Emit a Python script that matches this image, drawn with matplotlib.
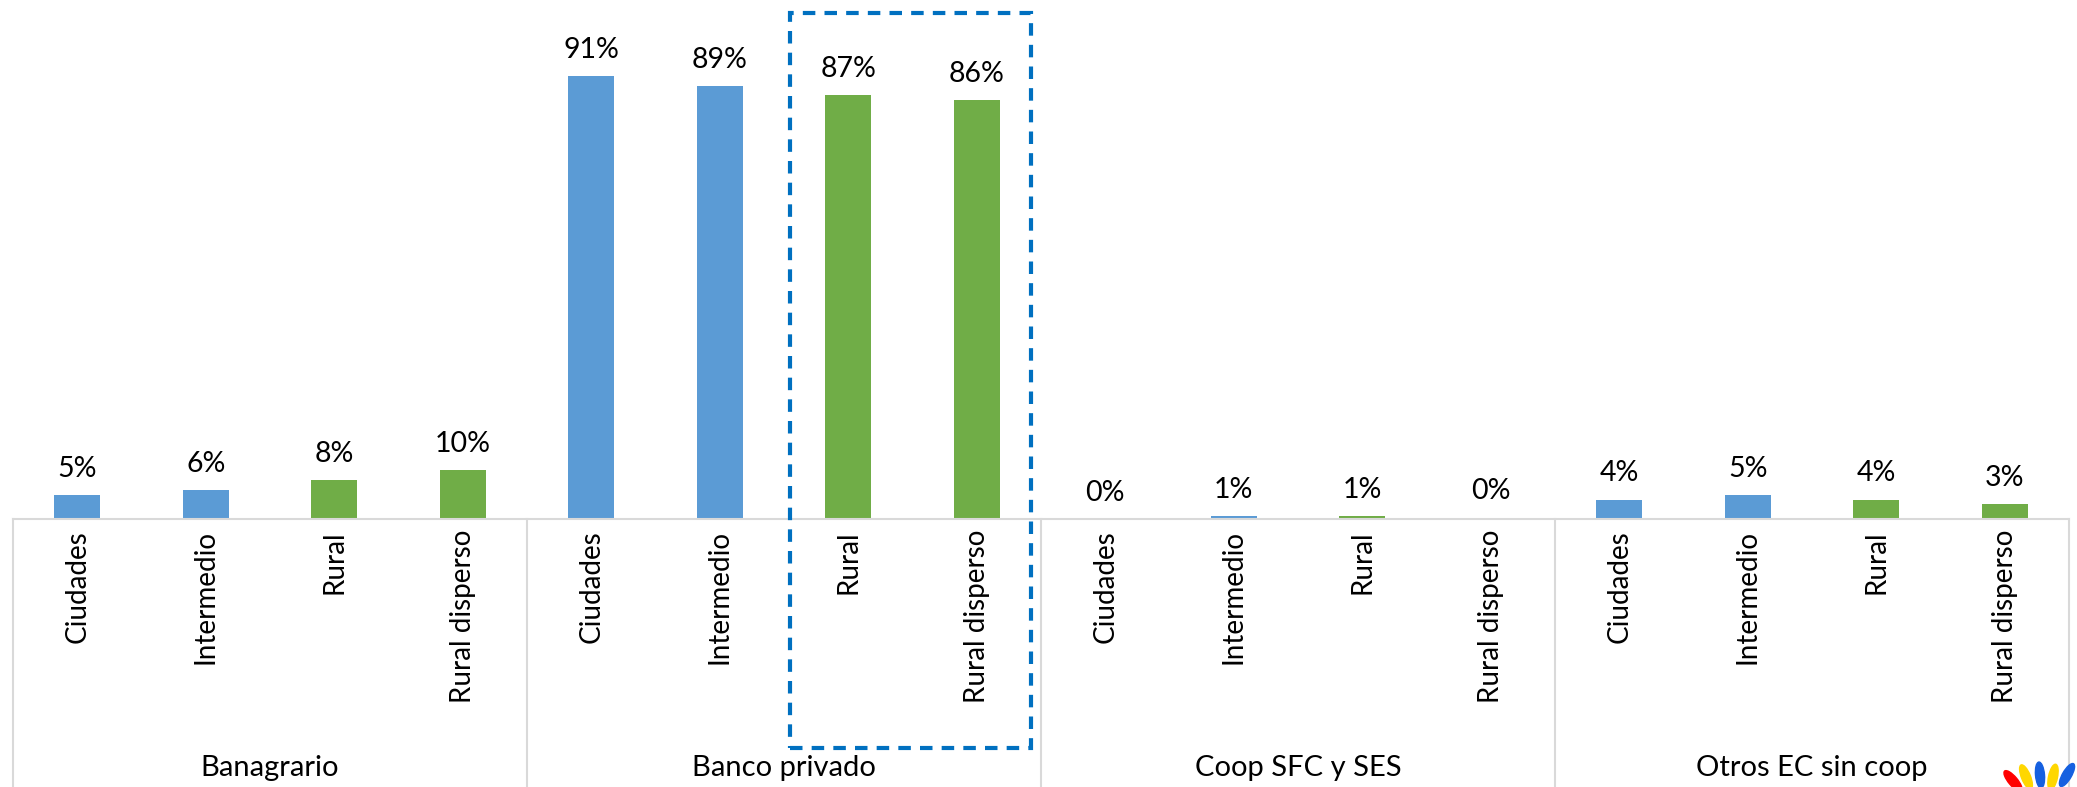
import numpy as np
import matplotlib.pyplot as plt
from matplotlib.patches import Rectangle, Ellipse
import matplotlib.transforms as mtransforms

plt.rcParams['font.family'] = ['Lato', 'DejaVu Sans']

# Data
groups = ["Banagrario", "Banco privado", "Coop SFC y SES", "Otros EC sin coop"]
subcats = ["Ciudades", "Intermedio", "Rural", "Rural disperso"]
banagrario = [0.05, 0.06, 0.08, 0.10]
banco_privado = [0.91, 0.89, 0.87, 0.86]
coop = [0.0, 0.006, 0.006, 0.003]
otros = [0.04, 0.05, 0.04, 0.03]

values = banagrario + banco_privado + coop + otros
blue = "#5B9BD5"
green = "#70AD47"
colors = [blue, blue, green, green] * 4

W, H = 2077, 787
fig = plt.figure(figsize=(W / 100, H / 100), dpi=100)
ax = fig.add_axes([13 / W, 268 / H, 2056 / W, 487 / H])

x = np.arange(len(values))
bars = ax.bar(x, values, width=0.36, color=colors)

ax.set_xlim(-0.5, len(values) - 0.5)
ax.set_ylim(0, 1.0)
for s in ["top", "right", "left"]:
    ax.spines[s].set_visible(False)
ax.spines["bottom"].set_color("#D9D9D9")
ax.spines["bottom"].set_linewidth(1.5)
ax.set_yticks([])
ax.set_xticks([])

# value labels
for xi, v in zip(x, values):
    ax.annotate(f"{round(v * 100):.0f}%", (xi, v), xytext=(0, 13), textcoords="offset points",
                ha="center", va="baseline", fontsize=20.5)

# category labels (rotated)
for xi, lab in zip(x, subcats * 4):
    ax.annotate(lab, (xi, 0), xytext=(0, -8), textcoords="offset points",
                ha="center", va="top", rotation=90, fontsize=20, annotation_clip=False)

# group labels and separators
trans = mtransforms.blended_transform_factory(ax.transData, fig.transFigure)
for i, g in enumerate(groups):
    ax.text(4 * i + 1.5, 1 - 768 / H, g, transform=trans, ha="center", va="center", fontsize=21)
for b in [-0.5, 3.5, 7.5, 11.5, 15.5]:
    ax.plot([b, b], [0, -0.55], color="#D9D9D9", lw=1.5, clip_on=False)

# dashed highlight box
box = Rectangle((5.55, 1 - 748 / H), 1.87, (748 - 13) / H, transform=trans, fill=False,
                edgecolor="#0070C0", lw=3, linestyle=(0, (3, 2.2)), clip_on=False)
fig.add_artist(box)

# small logo petals in the corner (pixel coords)
petals = [(2013, 6, 40, "#FF0000"), (2026, 10, 22, "#FFD700"), (2040, 12, 5, "#1560E0"),
          (2053, 10, -12, "#FFD700"), (2067, 12, -30, "#1560E0")]
for px, py, ang, c in petals:
    fig.add_artist(Ellipse((px, py), 9, 26, angle=ang, color=c, transform=None, clip_on=False))

fig.savefig("out.png", dpi=100)
